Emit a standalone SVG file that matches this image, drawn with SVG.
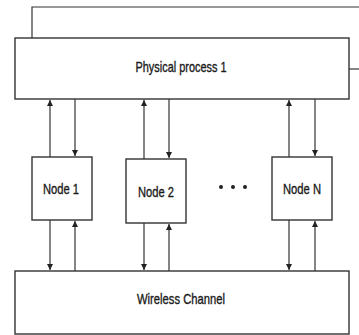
<svg xmlns="http://www.w3.org/2000/svg" width="359" height="335" viewBox="0 0 359 335">
<defs>
<marker id="ah" viewBox="0 0 8 8" refX="8" refY="4" markerWidth="6" markerHeight="6" markerUnits="userSpaceOnUse" orient="auto">
<path d="M0,0 L8,4 L0,8 z" fill="#222"/>
</marker>
<style>
.box{fill:#fff;stroke:#333;stroke-width:1.4}
.ln{fill:none;stroke:#333;stroke-width:1.2}
.ar{fill:none;stroke:#333;stroke-width:1.2;marker-end:url(#ah)}
.t{font-family:"Liberation Sans",Arial,sans-serif;font-size:14.5px;fill:#1a1a1a;stroke:#1a1a1a;stroke-width:0.35;text-anchor:middle}
</style>
</defs>
<rect width="359" height="335" fill="#fff"/>
<g id="connectors">
<polyline class="ln" points="32,38 32,7 359,7"/>
<line class="ln" x1="349" y1="69" x2="359" y2="69"/>
<line class="ar" x1="50" y1="157" x2="50" y2="100"/>
<line class="ar" x1="75" y1="99" x2="75" y2="156"/>
<line class="ar" x1="50" y1="220" x2="50" y2="270"/>
<line class="ar" x1="75" y1="271" x2="75" y2="221"/>
<line class="ar" x1="144" y1="159" x2="144" y2="100"/>
<line class="ar" x1="169" y1="99" x2="169" y2="158"/>
<line class="ar" x1="144" y1="223" x2="144" y2="270"/>
<line class="ar" x1="169" y1="271" x2="169" y2="224"/>
<line class="ar" x1="289" y1="157" x2="289" y2="100"/>
<line class="ar" x1="315" y1="99" x2="315" y2="156"/>
<line class="ar" x1="289" y1="220" x2="289" y2="270"/>
<line class="ar" x1="315" y1="271" x2="315" y2="221"/>
</g>
<g id="physical">
<rect class="box" x="15" y="38" width="334" height="61"/>
<text class="t" x="181" y="72" textLength="91" lengthAdjust="spacingAndGlyphs">Physical process 1</text>
</g>
<g id="node1">
<rect class="box" x="32" y="157" width="60" height="63"/>
<text class="t" x="61" y="194" textLength="36" lengthAdjust="spacingAndGlyphs">Node 1</text>
</g>
<g id="node2">
<rect class="box" x="126" y="159" width="60" height="64"/>
<text class="t" x="156" y="197" textLength="36" lengthAdjust="spacingAndGlyphs">Node 2</text>
</g>
<g id="dots">
<circle cx="221" cy="187" r="2" fill="#222"/>
<circle cx="233" cy="187" r="2" fill="#222"/>
<circle cx="245" cy="187" r="2" fill="#222"/>
</g>
<g id="nodeN">
<rect class="box" x="272" y="157" width="60" height="63"/>
<text class="t" x="302" y="194" textLength="38" lengthAdjust="spacingAndGlyphs">Node N</text>
</g>
<g id="wireless">
<rect class="box" x="15" y="271" width="334" height="63"/>
<text class="t" x="181" y="304" textLength="88" lengthAdjust="spacingAndGlyphs">Wireless Channel</text>
</g>
</svg>
